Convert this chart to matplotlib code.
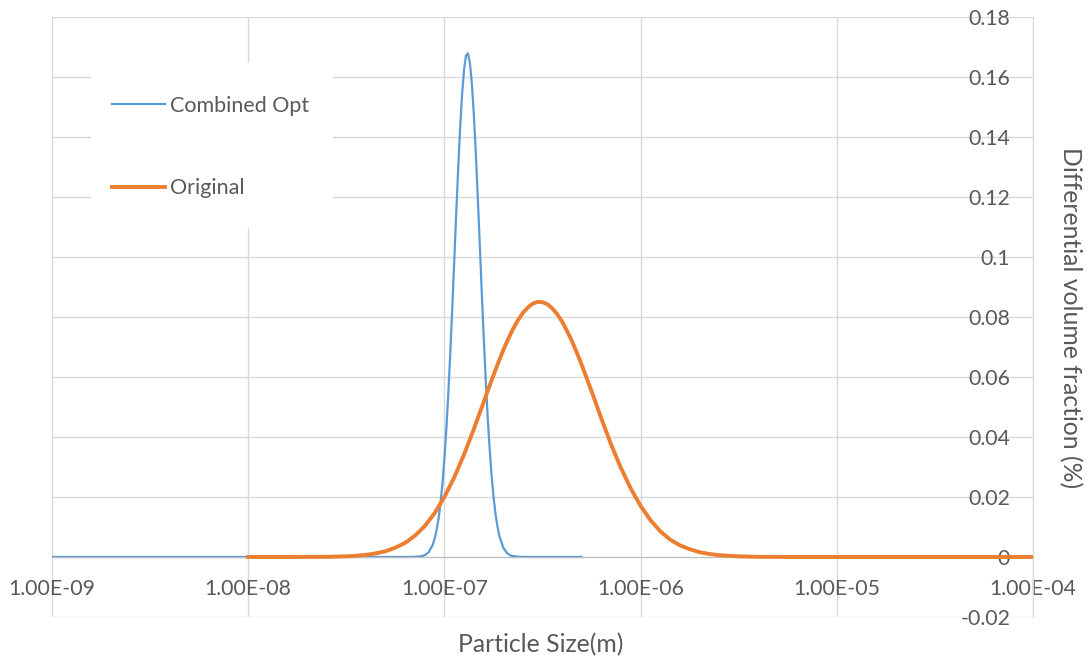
import numpy as np
import matplotlib
matplotlib.use('Agg')
import matplotlib.pyplot as plt
from matplotlib.patches import Rectangle
from matplotlib.ticker import FixedLocator, FuncFormatter, NullLocator

plt.rcParams['font.family'] = ['Lato', 'DejaVu Sans']

#%% size distributions (log10 of particle size in m, differential volume fraction)
opt_logd = [-9.0, -8.0, -7.3, -7.2, -7.16, -7.12, -7.10, -7.08, -7.06, -7.05, -7.04,
            -7.03, -7.02, -7.01, -7.00, -6.99, -6.98, -6.97, -6.96, -6.95, -6.94,
            -6.93, -6.92, -6.91, -6.90, -6.89, -6.88, -6.87, -6.86, -6.85, -6.84,
            -6.83, -6.82, -6.81, -6.80, -6.79, -6.78, -6.77, -6.76, -6.75, -6.74,
            -6.73, -6.72, -6.70, -6.68, -6.66, -6.62, -6.58, -6.50, -6.301]
opt_vf = [0.0, 0.0, 0.0, 0.0, 0.00002, 0.0002, 0.0006, 0.0016, 0.0040, 0.0060, 0.0089,
          0.0127, 0.0179, 0.0245, 0.0328, 0.0428, 0.0546, 0.0680, 0.0828, 0.0983, 0.1140,
          0.1290, 0.1427, 0.1540, 0.1623, 0.1670, 0.1678, 0.1646, 0.1577, 0.1475, 0.1347,
          0.1201, 0.1046, 0.0889, 0.0738, 0.0598, 0.0473, 0.0366, 0.0276, 0.0203, 0.0146,
          0.0103, 0.0070, 0.0031, 0.0012, 0.0004, 0.00004, 0.0, 0.0, 0.0]

orig_logd = [-8.0, -7.8, -7.6, -7.5, -7.45, -7.4, -7.35, -7.3, -7.25, -7.2, -7.15,
             -7.1, -7.05, -7.0, -6.95, -6.9, -6.85, -6.8, -6.775, -6.75, -6.725,
             -6.7, -6.675, -6.65, -6.625, -6.6, -6.575, -6.55, -6.525, -6.5, -6.475,
             -6.45, -6.425, -6.4, -6.375, -6.35, -6.325, -6.3, -6.275, -6.25, -6.225,
             -6.2, -6.15, -6.1, -6.05, -6.0, -5.95, -5.9, -5.85, -5.8, -5.75,
             -5.7, -5.65, -5.6, -5.5, -5.4, -5.2, -5.0, -4.5, -4.0]
orig_vf = [0.0, 0.0, 0.00006, 0.00022, 0.0004, 0.0007, 0.0012, 0.0019, 0.0031, 0.0047, 0.0071,
           0.0103, 0.0146, 0.0200, 0.0265, 0.0341, 0.0426, 0.0516, 0.0561, 0.0605, 0.0648,
           0.0689, 0.0726, 0.0760, 0.0789, 0.0813, 0.0831, 0.0844, 0.0850, 0.0849, 0.0842,
           0.0828, 0.0809, 0.0784, 0.0753, 0.0719, 0.0681, 0.0640, 0.0596, 0.0552, 0.0507,
           0.0461, 0.0374, 0.0296, 0.0228, 0.0170, 0.0123, 0.0086, 0.0058, 0.0039, 0.0026,
           0.0016, 0.0010, 0.0006, 0.0002, 0.00005, 0.0, 0.0, 0.0, 0.0]

series_names = ['Combined Opt', 'Original']
xticks = [1e-9, 1e-8, 1e-7, 1e-6, 1e-5, 1e-4]
yticks = [-0.02, 0, 0.02, 0.04, 0.06, 0.08, 0.1, 0.12, 0.14, 0.16, 0.18]

opt_d = 10 ** np.array(opt_logd)
orig_d = 10 ** np.array(orig_logd)

#%%
txt = '#595959'
grid = '#D9D9D9'
fs = 15.3

fig = plt.figure(figsize=(10.91, 6.66), dpi=100)
ax = fig.add_axes([52/1091, 49/666, 981/1091, 600.3/666])
ax.set_axisbelow(True)

ax.plot(opt_d, opt_vf, color='#5B9BD5', lw=1.6, label=series_names[0], zorder=2,
        solid_joinstyle='round')
ax.plot(orig_d, orig_vf, color='#ED7D31', lw=2.8, label=series_names[1], zorder=3,
        solid_joinstyle='round')

ax.set_xscale('log')
ax.set_xlim(1e-9, 1e-4)
ax.set_ylim(-0.02, 0.18)

ax.xaxis.set_major_locator(FixedLocator(xticks))
ax.xaxis.set_minor_locator(NullLocator())
ax.xaxis.set_major_formatter(FuncFormatter(lambda v, p: '%.2E' % v))
ax.yaxis.set_major_locator(FixedLocator(yticks))
ax.yaxis.set_major_formatter(FuncFormatter(lambda v, p: '%g' % (round(v, 2) + 0.0)))

ax.grid(True, color=grid, lw=1.0)

# x axis crosses at zero, y axis sits on the right with labels inside
ax.spines['bottom'].set_position(('data', 0))
ax.spines['bottom'].set_color('#BFBFBF')
ax.spines['right'].set_color(grid)
ax.spines['left'].set_visible(False)
ax.spines['top'].set_visible(False)

ax.yaxis.set_ticks_position('right')
ax.tick_params(axis='x', length=0, pad=16, labelsize=fs, labelcolor=txt)
ax.tick_params(axis='y', length=0, pad=-16.5, labelsize=fs, labelcolor=txt)
for lab in ax.get_yticklabels():
    lab.set_horizontalalignment('right')

# legend box over the grid
ax.add_patch(Rectangle((0.0398, 0.648), 0.2466, 0.275, transform=ax.transAxes,
                       facecolor='white', edgecolor='none', zorder=1))
ax.legend(loc='upper left', bbox_to_anchor=(0.0612, 0.8685), frameon=False,
          fontsize=15.5, labelcolor=txt, handlelength=2.46, handletextpad=0.23,
          labelspacing=2.9, borderpad=0, borderaxespad=0)

fig.text(541/1091, 1 - 645/666, 'Particle Size(m)', ha='center', va='center',
         fontsize=17.8, color=txt)
fig.text(1070/1091, 1 - 318/666, 'Differential volume fraction (%)', rotation=270,
         ha='center', va='center', fontsize=17.8, color=txt)

plt.savefig('out.png')
